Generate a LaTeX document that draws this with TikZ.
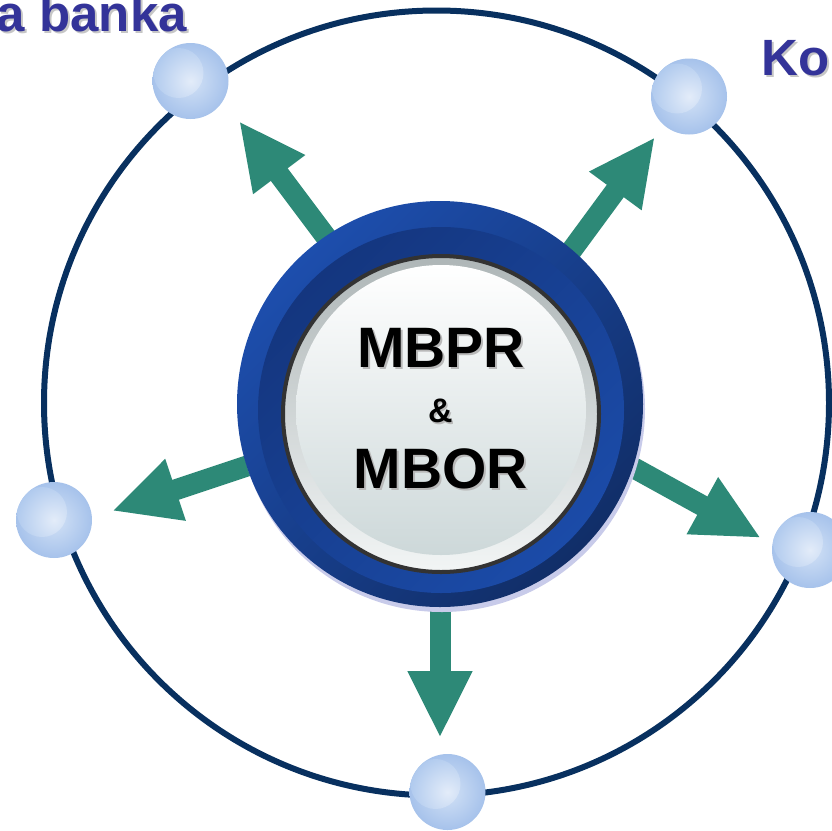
\documentclass[tikz,border=0pt]{standalone}
\usepackage{fontspec}
\setmainfont{Liberation Sans}
\usetikzlibrary{arrows.meta}
\definecolor{ringcol}{HTML}{08305F}
\definecolor{teal}{HTML}{2D8977}
\definecolor{titlecol}{HTML}{333399}
\definecolor{bluehi}{HTML}{1D4EAD}
\definecolor{bluelo}{HTML}{112E68}
\definecolor{bandlo}{HTML}{14367F}
\definecolor{bandhi}{HTML}{1B4BA8}
\definecolor{satout}{HTML}{A6C2EB}
\definecolor{satin}{HTML}{D3E2F6}
\definecolor{hlin}{HTML}{E3ECF9}
\definecolor{hlout}{HTML}{B0CAEE}
\tikzset{
  satball/.style={circle, minimum size=76pt, inner sep=0pt, inner color=satin, outer color=satout,
    path picture={\shade[inner color=hlin, outer color=hlout]
      ([xshift=-12pt,yshift=8pt]path picture bounding box.center) circle (25pt);}},
  bigarrow/.style={draw=teal, line width=21pt, -{Triangle[length=67pt,width=60pt]}, teal},
  ringline/.style={draw=ringcol, line width=6pt},
  maintext/.style={font=\bfseries\fontsize{57}{57}\selectfont, anchor=base, inner sep=0pt},
  amptext/.style={font=\bfseries\fontsize{34}{34}\selectfont, anchor=base, inner sep=0pt},
  titletext/.style={font=\bfseries\fontsize{51}{51}\selectfont, inner sep=0pt, text=titlecol},
}
\begin{document}
\begin{tikzpicture}[x=1pt,y=-1pt]
\useasboundingbox (0,0) rectangle (832,830);
\clip (0,0) rectangle (832,830);
\fill[white] (0,0) rectangle (832,830);

% titles (partly cut)
\node[titletext, anchor=base east, text=gray!45] at (189,33) {a banka};
\node[titletext, anchor=base east] (t1) at (187,31) {a banka};
\node[titletext, anchor=base west, text=gray!45] at (763,77) {Ko};
\node[titletext, anchor=base west] (t2) at (761,75) {Ko};

% orbit
\draw[ringline] (436.5,403) circle (392.5);

% satellites
\node[satball] (s1) at (190.5,81) {};
\node[satball] (s2) at (689,96.5) {};
\node[satball] (s3) at (54,520) {};
\node[satball] (s4) at (810,550) {};
\node[satball] (s5) at (447.5,792) {};

% arrow coordinates
\coordinate (a1t) at (419,361); \coordinate (a1h) at (239,121);
\coordinate (a2t) at (477,379); \coordinate (a2h) at (655,137);
\coordinate (a3t) at (397,416); \coordinate (a3h) at (112,511);
\coordinate (a4t) at (498,393); \coordinate (a4h) at (761,538);
\coordinate (a5t) at (440,450); \coordinate (a5h) at (440,738);
\draw[bigarrow] (a1t) -- (a1h);
\draw[bigarrow] (a2t) -- (a2h);
\draw[bigarrow] (a3t) -- (a3h);
\draw[bigarrow] (a4t) -- (a4h);
\draw[bigarrow] (a5t) -- (a5h);

% central hub
\fill[color={rgb,255:red,200;green,203;blue,234}] (442,409) circle (203);
\shade[top color=bluehi, bottom color=bluelo, shading angle=45] (440,404) circle (203);
\shade[top color=bandlo, bottom color=bandhi, shading angle=45] (441,410) circle (183);
\shade[top color={rgb,255:red,174;green,182;blue,183}, bottom color={rgb,255:red,242;green,245;blue,245}]
  (441,414) circle (158);
\shade[top color=white, bottom color={rgb,255:red,205;green,216;blue,217}] (441,410) circle (145);
\draw[color={rgb,255:red,51;green,51;blue,51}, line width=4pt] (441,414) circle (158);
\node[circle, minimum size=316pt, inner sep=0pt] (hub) at (441,414) {};

% hub text
\node[maintext, text=gray!55] at (443,369) {MBPR};
\node[maintext] (l1) at (441,367) {MBPR};
\node[amptext, text=gray!55] at (442,424) {\&};
\node[amptext] (l2) at (440.5,422) {\&};
\node[maintext, text=gray!55] at (443,490) {MBOR};
\node[maintext] (l3) at (441,488) {MBOR};
\end{tikzpicture}
\end{document}
